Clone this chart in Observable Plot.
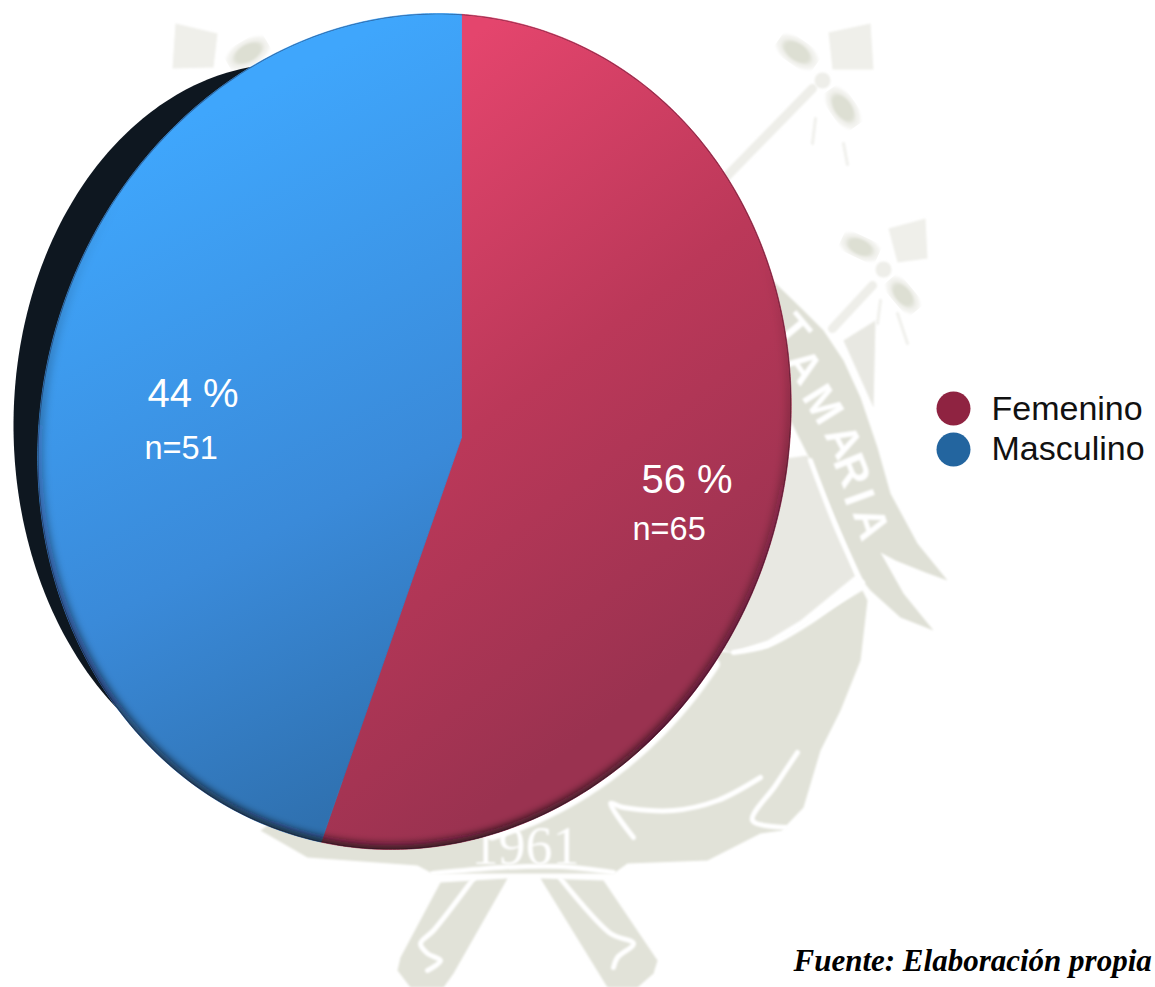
<!DOCTYPE html>
<html lang="es">
<head>
<meta charset="utf-8">
<title>Distribución por sexo</title>
<script src="https://cdn.jsdelivr.net/npm/d3@7"></script>
<script src="https://cdn.jsdelivr.net/npm/@observablehq/plot@0.6"></script>
<style>
  html, body { margin: 0; padding: 0; background: #fff; }
  svg { display: block; }
</style>
</head>
<body>
<script>
// Sample composition by sex
const categories = ["Femenino", "Masculino"];
const counts = [65, 51];
const percents = [56, 44];
const sliceColors = ["url(#fem)", "url(#mas)"];
const legendColors = ["#8f2341", "#23659f"];
const sourceNote = "Fuente: Elaboración propia";

// Tilted disc geometry: sheared ellipse seen in perspective, off-centre apex
const W = 1155, H = 987;
const disc = {cx: 414, cy: 431, rx: 376, ry: 418, shear: 0.056};
const apex = [461, 437];
const squeeze = 0.871;

function rim(theta) {
  // walk from the apex along the slice direction until the rim is met
  const dx = squeeze * Math.sin(theta), dy = -Math.cos(theta);
  const px = apex[0] - disc.cx, py = apex[1] - disc.cy;
  const ux = (dx + disc.shear * dy) / disc.rx, uy = dy / disc.ry;
  const u0 = (px + disc.shear * py) / disc.rx, v0 = py / disc.ry;
  const a = ux * ux + uy * uy, b = 2 * (u0 * ux + v0 * uy), c = u0 * u0 + v0 * v0 - 1;
  const t = (-b + Math.sqrt(b * b - 4 * a * c)) / (2 * a);
  return {x: apex[0] + t * dx, y: apex[1] + t * dy};
}

const arcs = d3.pie().sort(null)(counts);
const slices = arcs.map((a) => {
  const pts = [{x: apex[0], y: apex[1]}];
  const steps = Math.ceil((a.endAngle - a.startAngle) * 90);
  for (let i = 0; i <= steps; ++i) pts.push(rim(a.startAngle + (a.endAngle - a.startAngle) * i / steps));
  pts.push({x: apex[0], y: apex[1]});
  return pts;
});
const rimLine = d3.range(0, 361).map((d) => rim(d * Math.PI / 180));

// Dark crescent peeking out behind the disc on its left side
const backing = d3.range(0, 361).map((d) => {
  const t = d * Math.PI / 180;
  return {x: 288 + 275 * Math.cos(t), y: 425 + 362 * Math.sin(t)};
});

// University crest printed faintly behind the chart
const crestFlags = [
  [[175,23],[217,33],[213,67],[172,68]],
  [[828,32],[870,23],[873,69],[832,69]],
  [[888,228],[925,218],[927,258],[897,262]]
];
const crestPale = [
  [[843,340],[875,320],[873,407]],
  [[770,460],[807,455],[855,575],[800,620],[767,640],[730,652],[700,640]]
];
const crestBody = [
  [[862,590],[867,600],[860,660],[840,710],[820,750],[803,807],[781,830],[760,833],[707,860],[627,863],[613,873],[432,873],[417,865],[307,857],[260,830],[300,800],[500,780],[700,650],[733,652],[767,647],[807,623]],
  [[440,882],[507,878],[453,973],[443,987],[410,987],[397,970],[400,957]],
  [[540,878],[603,880],[657,960],[653,973],[637,987],[607,987]]
];
const crestBand = [
  [[720,190],[733,190],[772,280],[800,307],[823,330],[843,360],[860,397],[877,447],[890,493],[917,543],[947,580],[925,572],[895,560],[880,552],[903,593],[933,630],[900,617],[870,590],[858,575],[810,460],[790,420],[760,400]]
];
const crestBuds = [
  {x: 797, y: 52, rx: 20, ry: 11, rot: 35},
  {x: 843, y: 108, rx: 20, ry: 11, rot: 55},
  {x: 860, y: 247, rx: 18, ry: 10, rot: 25},
  {x: 903, y: 295, rx: 18, ry: 10, rot: 50},
  {x: 248, y: 53, rx: 20, ry: 11, rot: -30}
];
const crestKnots = [{x: 822, y: 80}, {x: 883, y: 269}];
const crestSticks = [
  [[812,88],[725,177]],
  [[872,285],[832,328]]
];
const crestWhiskers = [
  [[815,118],[812,143]],
  [[843,143],[847,164]],
  [[880,300],[877,323]],
  [[897,313],[907,343]]
];
const crestSeams = [
  [[862,582],[807,623],[767,645],[733,652]],
  [[810,460],[835,525],[860,580]],
  [[797,752],[775,785],[752,820],[785,827]],
  [[633,837],[610,803],[623,807],[673,810],[717,800],[760,777]],
  [[432,873],[500,867],[560,866],[613,872]],
  [[473,878],[433,930],[420,943],[427,953],[440,960],[427,970]],
  [[560,878],[610,933],[633,943],[617,957],[613,967]]
];
const crestLetters = [
  {t: "T", x: 792, y: 330, r: 50},
  {t: "A", x: 803, y: 366, r: 55},
  {t: "M", x: 822, y: 404, r: 58},
  {t: "A", x: 843, y: 441, r: 62},
  {t: "R", x: 851, y: 470, r: 68},
  {t: "I", x: 858, y: 497, r: 70},
  {t: "A", x: 870, y: 523, r: 72}
];
const crestYear = "1961";

const toPts = (list) => list.flatMap((poly, i) => poly.concat([poly[0]]).map(([x, y]) => ({x, y, i})));
const toLines = (list) => list.flatMap((seg, i) => seg.map(([x, y]) => ({x, y, i})));

// Paint defs: gradients, soft edges and a clip shaped like the disc
const paintDefs = () => {
  const defs = d3.create("svg:defs");
  const grad = (id, x1, y1, x2, y2, stops) => {
    const g = defs.append("linearGradient").attr("id", id).attr("gradientUnits", "userSpaceOnUse")
      .attr("x1", x1).attr("y1", y1).attr("x2", x2).attr("y2", y2);
    stops.forEach(([o, c, a]) => g.append("stop").attr("offset", o).attr("stop-color", c).attr("stop-opacity", a ?? 1));
  };
  grad("fem", 440, 60, 820, 560, [[0, "#e4456d"], [0.5, "#bb3859"], [1, "#9a3250"]]);
  grad("mas", 90, 170, 420, 830, [[0, "#3fa6fc"], [0.55, "#3a8ad9"], [1, "#2d6ca8"]]);
  grad("shade", 520, 230, 470, 850, [[0, "#140a14", 0], [0.45, "#140a14", 0.35], [1, "#140a14", 0.85]]);
  const soft = defs.append("filter").attr("id", "soft").attr("x", "-5%").attr("y", "-5%").attr("width", "110%").attr("height", "110%");
  soft.append("feGaussianBlur").attr("stdDeviation", 4);
  const thin = defs.append("filter").attr("id", "thin").attr("x", "-5%").attr("y", "-5%").attr("width", "110%").attr("height", "110%");
  thin.append("feGaussianBlur").attr("stdDeviation", 0.6);
  const haze = defs.append("filter").attr("id", "haze").attr("x", "-5%").attr("y", "-5%").attr("width", "110%").attr("height", "110%");
  haze.append("feGaussianBlur").attr("stdDeviation", 1.2);
  defs.append("clipPath").attr("id", "discClip").append("path")
    .attr("d", d3.line((d) => d.x, (d) => d.y)(rimLine) + "Z");
  return defs.node();
};

const withAttrs = (attrs) => (index, scales, values, dims, context, next) => {
  const g = next(index, scales, values, dims, context);
  for (const [k, v] of Object.entries(attrs)) g.setAttribute(k, v);
  return g;
};
const hazy = withAttrs({filter: "url(#haze)"});
const textFont = "'Liberation Sans', Arial, sans-serif";

const chart = Plot.plot({
  width: W,
  height: H,
  margin: 0,
  x: {domain: [0, W], range: [0, W], axis: null},
  y: {domain: [0, H], range: [0, H], axis: null},
  style: {background: "#fff"},
  marks: [
    paintDefs,

    // crest backdrop
    Plot.line(toPts(crestBody), {x: "x", y: "y", z: "i", fill: "#e1e2d8", stroke: "none", render: hazy}),
    Plot.line(toPts(crestPale), {x: "x", y: "y", z: "i", fill: "#e8e8e2", stroke: "none", render: hazy}),
    Plot.line(toPts(crestBand), {x: "x", y: "y", z: "i", fill: "#dfe0d6", stroke: "none", render: hazy}),
    Plot.line(toPts(crestFlags), {x: "x", y: "y", z: "i", fill: "#efefea", stroke: "none", render: hazy}),
    Plot.line(toLines(crestSticks), {x: "x", y: "y", z: "i", stroke: "#eeeee9", strokeWidth: 9, render: hazy}),
    Plot.line(toLines(crestWhiskers), {x: "x", y: "y", z: "i", stroke: "#f0f0ec", strokeWidth: 3, render: hazy}),
    Plot.line(toLines(crestSeams), {x: "x", y: "y", z: "i", stroke: "#ffffff", strokeWidth: 5, curve: "catmull-rom", render: hazy}),
    ...crestBuds.map((b) => Plot.dot([b], {
      x: "x", y: "y", r: b.ry, fill: "#dddfd3", stroke: "#f2f2ee", strokeWidth: 4,
      render: withAttrs({filter: "url(#haze)", transform: `translate(${b.x} ${b.y}) rotate(${b.rot}) scale(${b.rx / b.ry} 1) translate(${-b.x} ${-b.y})`})
    })),
    Plot.dot(crestKnots, {x: "x", y: "y", r: 8, fill: "#eeeee9", render: hazy}),
    Plot.text(crestLetters, {x: "x", y: "y", text: "t", rotate: "r", fontSize: 44, fontWeight: "bold", fill: "#ffffff", fontFamily: textFont, render: hazy}),
    Plot.text([crestYear], {x: () => 525, y: () => 846, text: (d) => d, fontSize: 54, fill: "#ffffff", fontFamily: "'Liberation Serif', serif", render: hazy}),

    // clear halo along the lower right of the disc
    Plot.line(rimLine.slice(128, 176), {x: "x", y: "y", stroke: "#fff", strokeWidth: 12, render: hazy}),

    // disc: crescent behind, slices on top, darkened rim
    Plot.line(backing, {x: "x", y: "y", fill: "#0e1720", stroke: "none"}),
    ...slices.map((pts, i) => Plot.line(pts, {x: "x", y: "y", fill: sliceColors[i], stroke: sliceColors[i], strokeWidth: 0.8})),
    Plot.line(rimLine, {x: "x", y: "y", stroke: "url(#shade)", strokeWidth: 9, render: withAttrs({filter: "url(#soft)", "clip-path": "url(#discClip)"})}),
    Plot.line(rimLine, {x: "x", y: "y", stroke: "#140d16", strokeOpacity: 0.4, strokeWidth: 1.6, render: withAttrs({filter: "url(#thin)", "clip-path": "url(#discClip)"})}),

    // slice labels
    Plot.text([percents[1] + " %"], {x: () => 147, y: () => 406, text: (d) => d, textAnchor: "start", lineAnchor: "bottom", fontSize: 40, fill: "#fff", fontFamily: textFont}),
    Plot.text(["n=" + counts[1]], {x: () => 144, y: () => 458, text: (d) => d, textAnchor: "start", lineAnchor: "bottom", fontSize: 32.5, fill: "#fff", fontFamily: textFont}),
    Plot.text([percents[0] + " %"], {x: () => 641, y: () => 492, text: (d) => d, textAnchor: "start", lineAnchor: "bottom", fontSize: 40, fill: "#fff", fontFamily: textFont}),
    Plot.text(["n=" + counts[0]], {x: () => 632, y: () => 539, text: (d) => d, textAnchor: "start", lineAnchor: "bottom", fontSize: 32.5, fill: "#fff", fontFamily: textFont}),

    // legend
    Plot.dot(categories, {x: () => 953, y: (d, i) => 408 + i * 41, r: 17, fill: (d, i) => legendColors[i], stroke: "none"}),
    Plot.text(categories, {x: () => 991, y: (d, i) => 419 + i * 40, text: (d) => d, textAnchor: "start", lineAnchor: "bottom", fontSize: 34, fill: "#111", fontFamily: textFont}),

    // source note
    Plot.text([sourceNote], {x: () => 793, y: () => 970, text: (d) => d, textAnchor: "start", lineAnchor: "bottom", fontSize: 31, fontWeight: "bold", fontStyle: "italic", fill: "#000", fontFamily: "'Liberation Serif', 'Times New Roman', serif"})
  ]
});
document.body.appendChild(chart);
</script>
</body>
</html>
